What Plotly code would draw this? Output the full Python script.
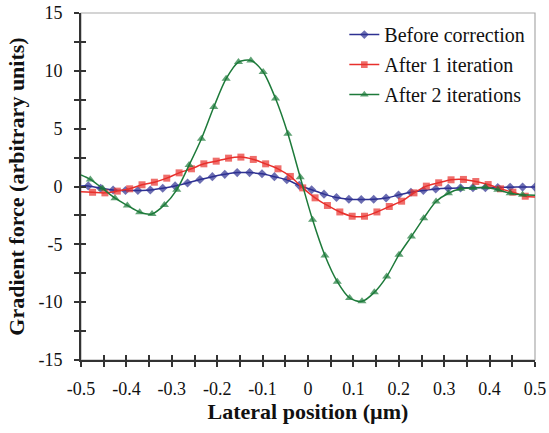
import plotly.graph_objects as go
import numpy as np

# ---- data ----
x_before = list(np.round(np.linspace(-0.484, 0.5, 37), 4))
y_before = [0.05, -0.15, -0.3, -0.35, -0.35, -0.3, -0.15, 0.05, 0.3, 0.6, 0.85, 1.05,
            1.2, 1.2, 1.1, 0.85, 0.58, 0.1, -0.28, -0.66, -0.95, -1.1, -1.12, -1.1,
            -1.0, -0.74, -0.5, -0.35, -0.22, -0.15, -0.12, -0.1, -0.1, -0.08, -0.06, -0.05, -0.05]

x_iter1 = list(np.round(np.linspace(-0.4745, 0.4785, 36), 4))
y_iter1 = [-0.5, -0.55, -0.4, -0.2, 0.15, 0.37, 0.72, 1.18, 1.53, 1.96, 2.19, 2.45,
           2.54, 2.34, 1.96, 1.53, 0.87, -0.12, -0.98, -1.64, -2.2, -2.57, -2.57, -2.2,
           -1.73, -1.27, -0.55, 0.03, 0.32, 0.58, 0.61, 0.43, 0.17, -0.2, -0.49, -0.84]

x_iter2 = list(np.round(np.linspace(-0.4795, 0.4725, 36), 4))
y_iter2 = [0.61, -0.18, -1.01, -1.64, -2.22, -2.37, -1.59, -0.29, 1.85, 4.13, 6.87, 9.32,
           10.76, 10.9, 9.9, 7.6, 4.56, 0.8, -2.88, -5.97, -8.23, -9.64, -9.93, -9.15,
           -7.79, -5.89, -4.33, -2.74, -1.3, -0.58, -0.2, -0.12, -0.06, -0.29, -0.58, -0.72]

# line continuation to the plot edges (no marker there)
edge_before = {"left": 0.05, "right": None}
edge_iter1 = {"left": -0.45, "right": -0.9}
edge_iter2 = {"left": 1.0, "right": -0.75}

names = ["Before correction", "After 1 iteration", "After 2 iterations"]
colors = ["#2e3192", "#e8302c", "#1d7a3a"]
symbols = ["diamond", "square", "triangle-up"]
msizes = [7, 7, 8]

x_ticks = [-0.5, -0.4, -0.3, -0.2, -0.1, 0, 0.1, 0.2, 0.3, 0.4, 0.5]
x_ticktext = ["-0.5", "-0.4", "-0.3", "-0.2", "-0.1", "0", "0.1", "0.2", "0.3", "0.4", "0.5"]
y_ticks = [-15, -10, -5, 0, 5, 10, 15]
y_ticktext = ["-15", "-10", "-5", "0", "5", "10", "15"]

FONT = "Liberation Serif, Times New Roman, serif"

fig = go.Figure()
series = [(x_before, y_before, edge_before), (x_iter1, y_iter1, edge_iter1), (x_iter2, y_iter2, edge_iter2)]
for i, (xs, ys, edge) in enumerate(series):
    xx, yy, ss = list(xs), list(ys), [msizes[i]] * len(xs)
    if edge["left"] is not None:
        xx = [-0.5] + xx; yy = [edge["left"]] + yy; ss = [0] + ss
    if edge["right"] is not None:
        xx = xx + [0.5]; yy = yy + [edge["right"]]; ss = ss + [0]
    fig.add_trace(go.Scatter(
        x=xx, y=yy, name=names[i], mode="lines+markers",
        line=dict(color=colors[i], width=1.5, shape="spline", smoothing=0.8),
        marker=dict(symbol=symbols[i], size=ss, color=colors[i], line=dict(width=0)),
        legendgroup=names[i], cliponaxis=True,
    ))

axis_font = dict(family=FONT, size=18, color="#111")
fig.update_layout(
    width=549, height=433,
    margin=dict(l=81, r=14, t=13, b=73),
    paper_bgcolor="white", plot_bgcolor="white",
    font=dict(family=FONT),
    showlegend=True,
    legend=dict(x=0.58, y=0.994, xanchor="left", yanchor="top",
                font=dict(family=FONT, size=20, color="#111"),
                bgcolor="rgba(0,0,0,0)", traceorder="grouped", tracegroupgap=1,
                itemwidth=30),
    xaxis=dict(range=[-0.5, 0.5], tickvals=x_ticks, ticktext=x_ticktext, automargin=False,
               showgrid=False, zeroline=False, showline=True, linecolor="#333", linewidth=2,
               ticks="outside", ticklen=5, tickwidth=1.5, tickcolor="#333",
               minor=dict(dtick=0.05, ticks="outside", ticklen=5, tickwidth=1.5, tickcolor="#333"),
               tickfont=axis_font, ticklabelstandoff=6,
               title=dict(text="<b>Lateral position (µm)</b>", font=dict(family=FONT, size=22, color="#111"), standoff=4)),
    yaxis=dict(range=[-15, 15], tickvals=y_ticks, ticktext=y_ticktext, automargin=False,
               showgrid=False, zeroline=False, showline=True, linecolor="#333", linewidth=2,
               ticks="outside", ticklen=5, tickwidth=1.5, tickcolor="#333",
               minor=dict(dtick=2.5, ticks="outside", ticklen=5, tickwidth=1.5, tickcolor="#333"),
               tickfont=axis_font, ticklabelstandoff=8,
               title=dict(text="<b>Gradient force (arbitrary units)</b>", font=dict(family=FONT, size=22, color="#111"), standoff=8)),
    xaxis2=dict(overlaying="x", anchor="y", range=[-0.5, 0.5], showgrid=False, zeroline=False,
                showline=False, ticks="inside", ticklen=5, tickwidth=1.5, tickcolor="#333",
                tickvals=x_ticks, showticklabels=False, automargin=False,
                minor=dict(dtick=0.05, ticks="inside", ticklen=5, tickwidth=1.5, tickcolor="#333")),
    yaxis2=dict(overlaying="y", anchor="x", range=[-15, 15], showgrid=False, zeroline=False,
                showline=False, ticks="inside", ticklen=5, tickwidth=1.5, tickcolor="#333",
                tickvals=y_ticks, showticklabels=False, automargin=False,
                minor=dict(dtick=2.5, ticks="inside", ticklen=5, tickwidth=1.5, tickcolor="#333")),
    shapes=[dict(type="rect", xref="paper", yref="paper", x0=0, x1=1, y0=0, y1=1,
                 line=dict(color="#aaaaaa", width=1.2), layer="below")],
)
# invisible trace to activate the overlay axes
fig.add_trace(go.Scatter(x=[None], y=[None], xaxis="x2", yaxis="y2", showlegend=False, hoverinfo="skip"))
fig.write_html("out.html")
